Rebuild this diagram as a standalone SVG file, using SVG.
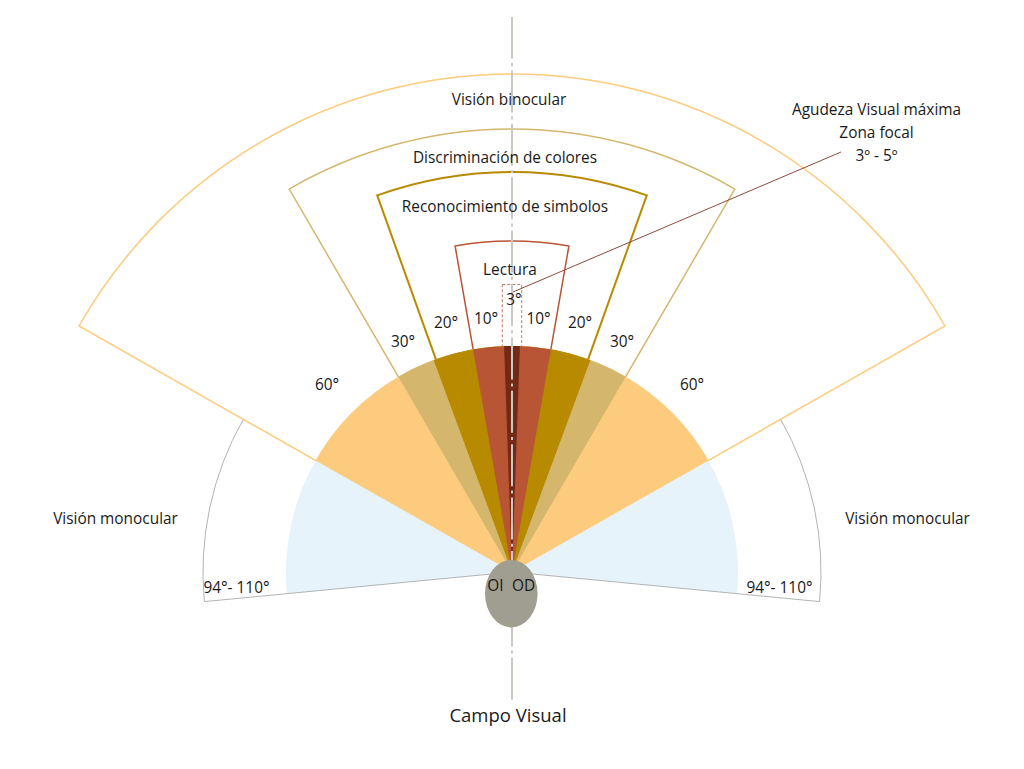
<svg xmlns="http://www.w3.org/2000/svg" width="1024" height="769" viewBox="0 0 1024 769">
<style>
text{font-family:"Open Sans","Noto Sans","Liberation Sans",sans-serif;font-size:15.4px;fill:#1a1a1a;text-anchor:middle}
.outline{fill:none}
.mono{fill:none;stroke:#B3B3B3;stroke-width:1}
</style>
<rect width="1024" height="769" fill="#ffffff"/>
<g id="outlines">
<path id="binocular" class="outline" stroke="#FDCB7E" stroke-width="1.5" d="M512,572 L79,326 A498,498 0 0 1 945,326 Z"/>
<path id="colores" class="outline" stroke="#D4B76D" stroke-width="1.5" d="M512,572 L289.2,189.1 A443,443 0 0 1 734.8,189.1 Z"/>
<path id="simbolos" class="outline" stroke="#B88A00" stroke-width="2" d="M512,572 L377.2,195.4 A400,400 0 0 1 646.8,195.4 Z"/>
<path id="lectura" class="outline" stroke="#B85535" stroke-width="1.5" d="M512,572 L455.1,246 A331,331 0 0 1 568.9,246 Z"/>
<rect id="focal" x="502.3" y="284.5" width="19.4" height="62" fill="none" stroke="#B85535" stroke-width="0.8" stroke-dasharray="3 2"/>
</g>
<g id="fills">
<path fill="#E6F3FB" d="M512,572 L287,593.7 A226,226 0 1 1 737,593.7 Z"/>
<path fill="#FDCB7E" d="M512,572 L315.5,460.4 A226,226 0 0 1 708.5,460.4 Z"/>
<path fill="#D4B76D" d="M512,572 L398.3,376.7 A226,226 0 0 1 625.7,376.7 Z"/>
<path fill="#B88A00" d="M512,572 L433.6,360 A226,226 0 0 1 590.4,360 Z"/>
<path fill="#B85535" d="M512,572 L473.1,349.4 A226,226 0 0 1 550.9,349.4 Z"/>
<path fill="#722A16" d="M512,572 L504.1,346.1 A226,226 0 0 1 519.9,346.1 Z"/>
</g>
<g id="monocular">
<path class="mono" d="M243.3,419.4 A309,309 0 0 0 204.4,601.6 L512,572"/>
<path class="mono" d="M780.7,419.4 A309,309 0 0 1 819.6,601.6 L512,572"/>
</g>
<g id="connectors">
<line x1="512" y1="17" x2="512" y2="700" stroke="#CBC8C1" stroke-width="2" stroke-dasharray="42 4.2 3 4.2"/>
<line x1="513" y1="292" x2="841" y2="152" stroke="#8B4A3A" stroke-width="1"/>
</g>
<g id="ojos">
<ellipse cx="511.3" cy="593.7" rx="26.3" ry="33.7" fill="#A09E90"/>
<text x="495.5" y="591">OI</text>
<text x="523.5" y="591">OD</text>
</g>
<g id="labels">
<text x="509" y="105">Visión binocular</text>
<text x="505" y="163">Discriminación de colores</text>
<text x="505" y="212">Reconocimiento de simbolos</text>
<text x="510" y="275">Lectura</text>
<text x="514" y="305">3°</text>
<text x="486" y="324">10°</text>
<text x="538.5" y="324">10°</text>
<text x="446" y="328">20°</text>
<text x="580" y="328">20°</text>
<text x="403" y="347">30°</text>
<text x="622" y="347">30°</text>
<text x="327" y="390">60°</text>
<text x="692" y="390">60°</text>
<text x="115.5" y="524">Visión monocular</text>
<text x="907.5" y="524">Visión monocular</text>
<text x="236.5" y="593">94°- 110°</text>
<text x="779.5" y="593">94°- 110°</text>
<text x="876.5" y="115">Agudeza Visual máxima</text>
<text x="876.5" y="138">Zona focal</text>
<text x="876.5" y="161">3º - 5º</text>
<text x="508" y="722" style="font-size:18.5px">Campo Visual</text>
</g>
</svg>
